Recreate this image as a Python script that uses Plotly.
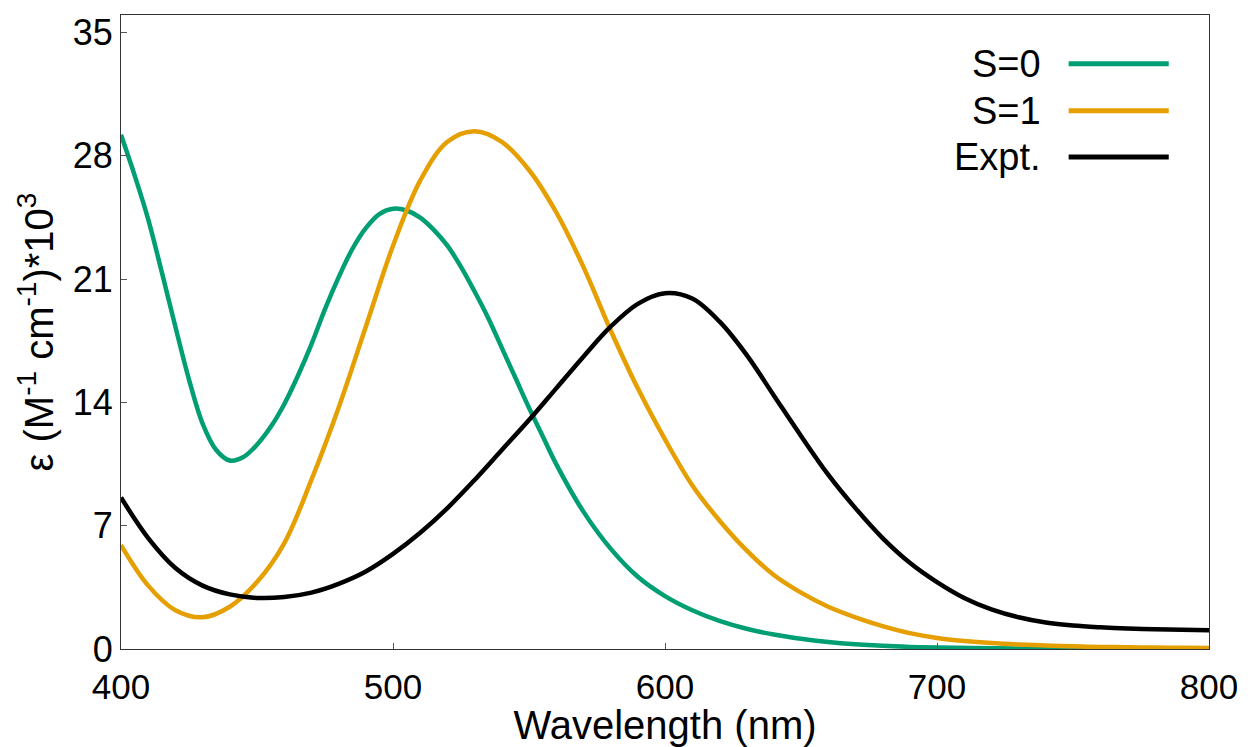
import plotly.graph_objects as go

# S=0 is read more densely where it bends sharply
wl_s0 = [400, 405, 410, 415, 420, 425, 430, 435, 440, 445, 450, 455, 460, 465, 470, 475, 480,
         485, 490, 495, 500, 505, 510, 515, 520, 525, 530, 535, 540, 545, 550, 555, 560,
         570, 580, 590, 600, 610, 620, 630, 640, 650, 660, 670, 680, 690, 700, 720, 740,
         760, 780, 800]
s0 = [29.2, 26.9, 24.4, 21.4, 18.3, 15.3, 12.8, 11.3, 10.7, 10.9, 11.6, 12.6, 13.9, 15.5, 17.3,
      19.3, 21.1, 22.7, 23.9, 24.7, 25.0, 24.9, 24.5, 23.8, 22.9, 21.7, 20.3, 18.8, 17.1,
      15.4, 13.7, 12.1, 10.5, 7.8, 5.7, 4.1, 3.0, 2.2, 1.6, 1.15, 0.82, 0.58, 0.4, 0.27,
      0.18, 0.12, 0.08, 0.04, 0.02, 0.01, 0.01, 0.01]

wavelength = [400, 410, 420, 430, 440, 450, 460, 470, 480, 490, 500, 510, 520, 530, 540,
              550, 560, 570, 580, 590, 600, 610, 620, 630, 640, 650, 660, 670, 680, 690,
              700, 710, 720, 730, 740, 750, 760, 770, 780, 790, 800]

s1 = [5.9, 3.6, 2.2, 1.8, 2.4, 3.8, 6.0, 9.6, 13.7, 18.3, 22.9, 26.6, 28.8, 29.4, 28.8,
      27.2, 24.8, 21.7, 18.1, 14.8, 11.9, 9.3, 7.3, 5.6, 4.2, 3.2, 2.4, 1.8, 1.3, 0.9,
      0.63, 0.46, 0.34, 0.26, 0.2, 0.15, 0.12, 0.1, 0.08, 0.07, 0.06]

expt = [8.6, 6.3, 4.6, 3.6, 3.1, 2.9, 2.95, 3.2, 3.7, 4.4, 5.4, 6.6, 8.0, 9.6, 11.3,
        13.0, 14.8, 16.6, 18.3, 19.6, 20.2, 19.9, 18.6, 16.7, 14.4, 12.1, 9.9, 8.0, 6.3, 4.9,
        3.8, 2.9, 2.25, 1.8, 1.5, 1.33, 1.23, 1.16, 1.12, 1.09, 1.07]

names = ["S=0", "S=1", "Expt."]
colors = ["#009E73", "#E69F00", "#000000"]
xs = [wl_s0, wavelength, wavelength]
series = [s0, s1, expt]

x_ticks = [400, 500, 600, 700, 800]
y_ticks = [0, 7, 14, 21, 28, 35]

FONT = "Liberation Sans, Arial, sans-serif"

fig = go.Figure()
for name, col, xv, ys in zip(names, colors, xs, series):
    fig.add_trace(go.Scatter(x=xv, y=ys, mode="lines", name=name,
                             line=dict(color=col, width=4.5, shape="spline", smoothing=1.0),
                             showlegend=False))

# gnuplot-style key: text on the left, line sample on the right
legend_y = [0.923, 0.849, 0.776]
for name, col, ly in zip(names, colors, legend_y):
    fig.add_annotation(xref="paper", yref="paper", x=0.847, y=ly, text=name,
                       showarrow=False, xanchor="right", yanchor="middle",
                       font=dict(family=FONT, size=38, color="black"))
    fig.add_shape(type="line", xref="paper", yref="paper", x0=0.871, x1=0.963, y0=ly, y1=ly,
                  line=dict(color=col, width=5))

axis_common = dict(showgrid=False, zeroline=False, showline=True, linecolor="#333333",
                   linewidth=1, mirror=True, ticks="inside", ticklen=6, tickcolor="#555555")

fig.update_xaxes(range=[400, 800], tickvals=x_ticks, ticktext=[str(v) for v in x_ticks],
                 ticklabelstandoff=7,
                 tickfont=dict(family=FONT, size=35, color="black"),
                 title=dict(text="Wavelength (nm)", font=dict(family=FONT, size=40, color="black"),
                            standoff=0),
                 **axis_common)
fig.update_yaxes(range=[0, 36], tickvals=y_ticks, ticktext=[str(v) for v in y_ticks],
                 tickfont=dict(family=FONT, size=36, color="black"),
                 title=dict(text="ε (M<sup>-1</sup> cm<sup>-1</sup>)*10<sup>3</sup>",
                            font=dict(family=FONT, size=40, color="black"), standoff=6),
                 **axis_common)

fig.update_layout(width=1254, height=747, plot_bgcolor="white", paper_bgcolor="white",
                  margin=dict(l=121, r=45, t=15, b=98, autoexpand=False),
                  font=dict(family=FONT))

fig.write_html("out.html")
